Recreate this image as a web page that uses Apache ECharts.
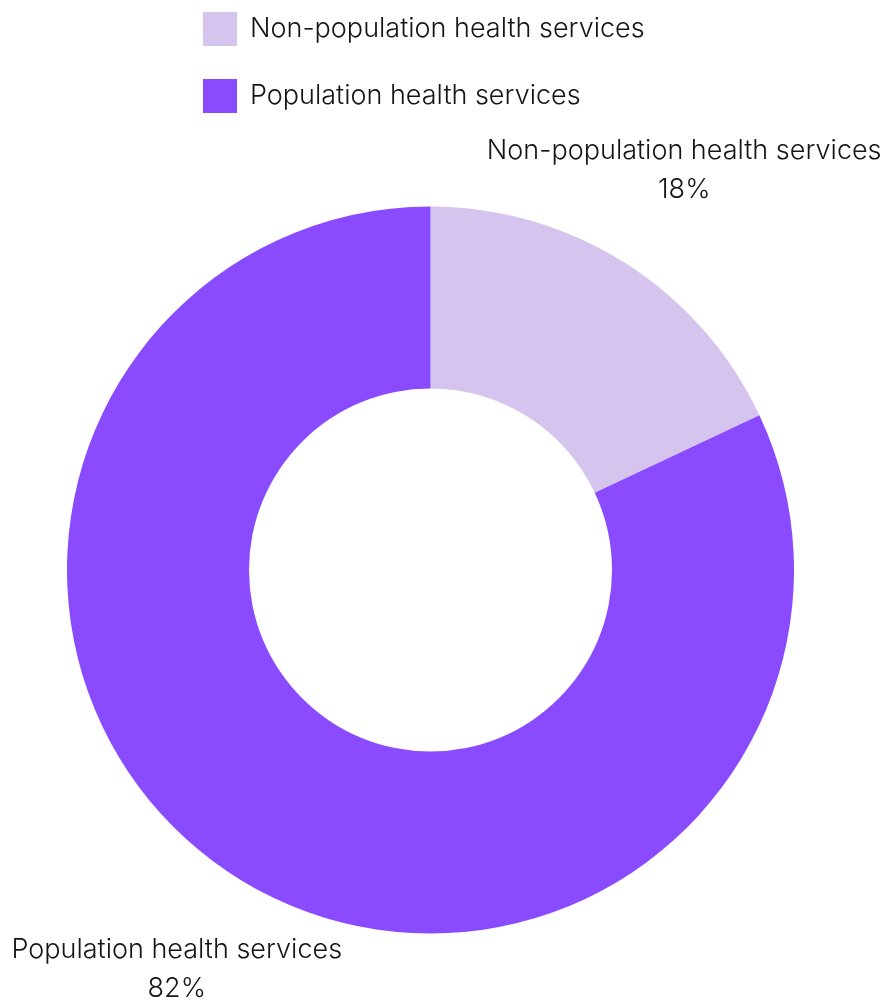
<!DOCTYPE html>
<html>
<head>
<meta charset="utf-8">
<script src="https://cdn.jsdelivr.net/npm/echarts@6/dist/echarts.min.js"></script>
<style>html,body{margin:0;padding:0;background:#fff;}#c{width:888px;height:1001px;}</style>
</head>
<body>
<div id="c"></div>
<script>
const categories = ['Non-population health services', 'Population health services'];
const values = [18, 82];
const colors = ['#D4C4EE', '#8A4BFF'];

const chart = echarts.init(document.getElementById('c'), null, {renderer: 'canvas'});
const FONT = 'Inter';
chart.setOption({
  animation: false,
  color: colors,
  legend: {
    orient: 'vertical',
    left: 198,
    top: 7,
    icon: 'rect',
    itemWidth: 34,
    itemHeight: 34,
    itemGap: 33,
    textStyle: {fontFamily: FONT, fontSize: 27, fontWeight: 300, color: '#151515', padding: [0, 0, 6, 8]},
    data: categories
  },
  series: [{
    type: 'pie',
    center: [430.5, 570],
    radius: [181.5, 363.5],
    startAngle: 90,
    clockwise: true,
    avoidLabelOverlap: false,
    label: {
      show: true,
      position: 'outside',
      formatter: '{b}\n{c}%',
      fontFamily: FONT,
      fontSize: 27,
      fontWeight: 300,
      lineHeight: 39,
      color: '#151515'
    },
    labelLine: {show: true, length: 110, length2: 0, lineStyle: {opacity: 0}},
    labelLayout: function (p) {
      const pts = p.labelLinePoints;
      if (!pts) return {};
      const last = pts[pts.length - 1];
      return {x: last[0], y: last[1], align: 'center', verticalAlign: 'middle'};
    },
    itemStyle: {borderWidth: 0},
    emphasis: {disabled: true},
    data: categories.map((n, i) => ({name: n, value: values[i]}))
  }]
});
</script>
</body>
</html>
